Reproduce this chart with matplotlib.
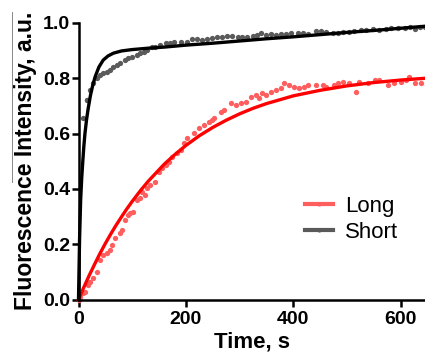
import numpy as np
import matplotlib
matplotlib.use('Agg')
import matplotlib.pyplot as plt
from matplotlib.lines import Line2D

plt.rcParams['font.family'] = ['Liberation Sans', 'DejaVu Sans']

# Long: measured points
long_t = [0, 3, 9, 12, 18, 21.5, 27.7, 34, 40, 46, 53, 59, 62, 68, 77.6, 81, 87, 93, 96, 102,
          109, 115, 118, 124, 127.5, 134, 143, 149, 155.5, 162, 168, 174, 183.5, 190, 196, 202,
          215, 224, 233, 243, 249, 252, 264.5, 271, 283, 292.5, 302, 311, 320.5, 330, 336, 342,
          348.6, 358, 367, 376.6, 383, 392, 401.5, 411, 420, 426.5, 442, 454.6, 461, 476, 482.6,
          492, 504, 517, 523, 539, 551, 560, 576, 588, 601, 610, 616, 626, 638, 648]
long_y = [0.0, 0.01, 0.023, 0.029, 0.053, 0.065, 0.077, 0.10, 0.143, 0.161, 0.167, 0.179, 0.197,
          0.222, 0.24, 0.252, 0.288, 0.306, 0.312, 0.318, 0.36, 0.366, 0.39, 0.378, 0.402, 0.414,
          0.426, 0.462, 0.474, 0.486, 0.498, 0.516, 0.528, 0.54, 0.565, 0.583, 0.601, 0.619,
          0.631, 0.643, 0.649, 0.655, 0.679, 0.685, 0.709, 0.703, 0.709, 0.715, 0.733, 0.739,
          0.727, 0.745, 0.739, 0.751, 0.757, 0.763, 0.781, 0.775, 0.769, 0.763, 0.769, 0.775,
          0.775, 0.775, 0.769, 0.775, 0.781, 0.787, 0.781, 0.751, 0.787, 0.781, 0.793, 0.793,
          0.775, 0.781, 0.787, 0.793, 0.805, 0.781, 0.781, 0.775]

# Short: measured points
short_t = [9, 15, 16.5, 21.5, 27.7, 34, 40, 46, 53, 59, 65, 71, 77.6, 87, 93, 99.4, 109, 115,
           121, 127.5, 137, 143, 152, 162, 171, 177, 190, 202, 211.6, 221, 230, 240, 249, 258,
           268, 277, 286, 296, 305, 314, 324, 333, 339, 348.6, 358, 367, 376.6, 386, 395, 408,
           417, 426.5, 442, 451, 461, 473, 482.6, 492, 504, 513.6, 526, 535.5, 548, 560, 573,
           582, 595, 607, 616.5, 626, 635, 644.5]
short_y = [0.655, 0.721, 0.72, 0.757, 0.781, 0.799, 0.811, 0.817, 0.823, 0.829, 0.841, 0.847,
           0.853, 0.865, 0.871, 0.877, 0.883, 0.89, 0.895, 0.901, 0.913, 0.913, 0.919, 0.926,
           0.926, 0.931, 0.931, 0.931, 0.94, 0.94, 0.938, 0.94, 0.944, 0.949, 0.947, 0.952,
           0.952, 0.947, 0.947, 0.949, 0.952, 0.956, 0.962, 0.956, 0.959, 0.956, 0.959, 0.959,
           0.962, 0.964, 0.962, 0.959, 0.971, 0.971, 0.968, 0.964, 0.964, 0.968, 0.968, 0.971,
           0.974, 0.974, 0.976, 0.974, 0.976, 0.98, 0.98, 0.98, 0.983, 0.976, 0.983, 0.986]

# fitted curves
long_fit_t = [0, 10, 20, 30, 40, 50, 60, 70, 80, 90, 100, 115, 130, 160, 180, 200, 225, 250,
              275, 300, 325, 350, 400, 450, 500, 550, 600, 650]
long_fit_y = [0, 0.045, 0.088, 0.128, 0.167, 0.203, 0.237, 0.269, 0.299, 0.328, 0.355, 0.393,
              0.428, 0.490, 0.525, 0.557, 0.592, 0.622, 0.648, 0.671, 0.691, 0.708, 0.736,
              0.756, 0.772, 0.784, 0.793, 0.800]
short_fit_t = [0, 2, 4, 6, 8, 10, 12, 15, 18, 22, 26, 31, 38, 46, 55, 65, 80, 100, 130, 160,
               200, 250, 300, 350, 400, 450, 500, 550, 600, 650]
short_fit_y = [0, 0.22, 0.36, 0.44, 0.50, 0.555, 0.60, 0.65, 0.69, 0.735, 0.77, 0.805, 0.84,
               0.865, 0.88, 0.89, 0.898, 0.903, 0.908, 0.912, 0.919, 0.926, 0.934, 0.942,
               0.949, 0.957, 0.965, 0.972, 0.980, 0.988]

red_dot = '#ff5e5e'
gray_dot = '#5a5a5a'

fig = plt.figure(figsize=(4.25, 3.56), dpi=100)
ax = fig.add_axes([78.5 / 425, 56.3 / 356, 1 - 78.5 / 425, 277 / 356])

ax.plot(long_t, long_y, 'o', color=red_dot, ms=3.8, mec='none', clip_on=False)
ax.plot(short_t, short_y, 'o', color=gray_dot, ms=3.8, mec='none', clip_on=False)
ax.plot(long_fit_t, long_fit_y, '-', color='#ff0000', lw=2.4, clip_on=False)
ax.plot(short_fit_t, short_fit_y, '-', color='black', lw=2.4, clip_on=False)

ax.set_xlim(0, 645)
ax.set_ylim(0, 1.0)
ax.set_xticks([0, 200, 400, 600])
ax.set_yticks([0, 0.2, 0.4, 0.6, 0.8, 1.0])
ax.set_yticklabels(['0.0', '0.2', '0.4', '0.6', '0.8', '1.0'])
for s in ['top', 'right']:
    ax.spines[s].set_visible(False)
for s in ['left', 'bottom']:
    ax.spines[s].set_linewidth(1.8)
ax.tick_params(width=1.8, length=5, labelsize=14, pad=1)
ax.tick_params(axis='x', pad=3)
for lab in ax.get_xticklabels() + ax.get_yticklabels():
    lab.set_fontweight('bold')

ax.set_xlabel('Time, s', fontsize=16, fontweight='bold', labelpad=3)
ax.set_ylabel('Fluorescence Intensity, a.u.', fontsize=16.5, fontweight='bold', labelpad=4)

handles = [Line2D([], [], color=red_dot, lw=3, marker='o', ms=3, mec='none'),
           Line2D([], [], color=gray_dot, lw=3, marker='o', ms=3, mec='none')]
ax.legend(handles, ['Long', 'Short'], loc='center left', bbox_to_anchor=(0.653, 0.29),
          frameon=False, fontsize=16, handlelength=1.25, handletextpad=0.55,
          labelspacing=0.25, borderpad=0, borderaxespad=0)

# thin stray line left of the y label
fig.add_artist(Line2D([11.7 / 425, 11.7 / 425], [1 - 12 / 356, 1 - 182 / 356],
                      color='#888888', lw=0.7))

fig.savefig('out.png', dpi=100)
